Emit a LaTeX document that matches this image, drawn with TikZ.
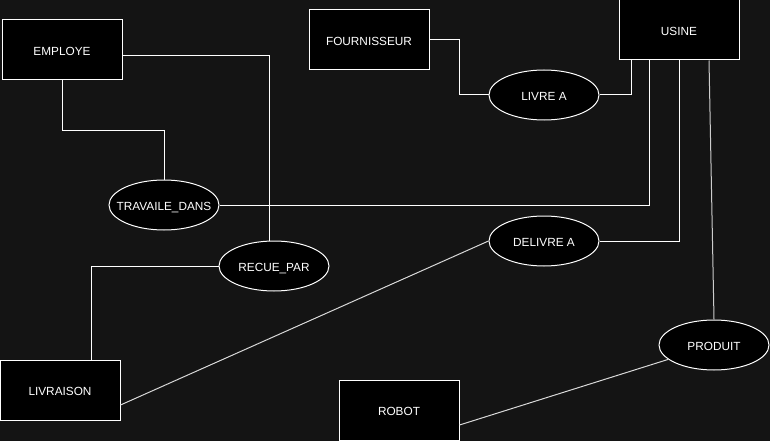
\documentclass[tikz,border=0pt]{standalone}
\usepackage{fontspec}
\setmainfont{Liberation Sans}
\usetikzlibrary{shapes.geometric}
\definecolor{bgc}{HTML}{141414}
\newcommand{\zb}[1]{\raisebox{-5.6pt}[0pt][0pt]{\makebox[0pt]{#1}}}
\begin{document}
\begin{tikzpicture}[x=1pt,y=-1pt,
  entity/.style={draw=white,fill=black,line width=1pt,minimum width=120pt,minimum height=60pt,inner sep=0pt,text=white,font=\fontsize{11.8pt}{13pt}\selectfont},
  rel/.style={ellipse,draw=white,fill=black,line width=1pt,minimum width=110pt,minimum height=50pt,inner sep=0pt,text=white,font=\fontsize{11.8pt}{13pt}\selectfont},
  link/.style={draw=white,line width=1pt}]
\fill[bgc] (0,0) rectangle (770,441);
\useasboundingbox (0,0) rectangle (770,441);
\node[entity] (emp) at (62,50) {\zb{EMPLOYE}};
\node[entity] (four) at (369,40) {\zb{FOURNISSEUR}};
\node[entity] (usine) at (679,30) {\zb{USINE}};
\node[entity] (livr) at (60,390) {\zb{LIVRAISON}};
\node[entity] (robot) at (399,410) {\zb{ROBOT}};
\node[rel] (livre) at (544,95) {\zb{LIVRE A}};
\node[rel] (trav) at (164,205) {\zb{TRAVAILE\_DANS}};
\node[rel] (recue) at (274,266) {\zb{RECUE\_PAR}};
\node[rel] (deliv) at (544,241) {\zb{DELIVRE A}};
\node[rel] (prod) at (714,345) {\zb{PRODUIT}};
\draw[link] (emp.south) -- ++(0,50) -| (trav.north);
\draw[link] ([yshift=-6pt]emp.east) -| ([xshift=-5pt]recue.north);
\draw[link] (four.east) -- ++(30,0) |- (livre.west);
\draw[link] (livre.east) -| ([xshift=-48pt]usine.south);
\draw[link] ([xshift=-30pt]usine.south) |- (trav.east);
\draw[link] (usine.south) |- (deliv.east);
\draw[link,draw=white!80!black] ([xshift=30pt]usine.south) -- (prod.north);
\draw[link] (recue.west) -| ([xshift=31pt]livr.north);
\draw[link,draw=white!85!black] ([yshift=-15pt]livr.east) -- (deliv.west);
\draw[link,draw=white!85!black] ([yshift=-15pt]robot.east) -- (prod);
\end{tikzpicture}
\end{document}
